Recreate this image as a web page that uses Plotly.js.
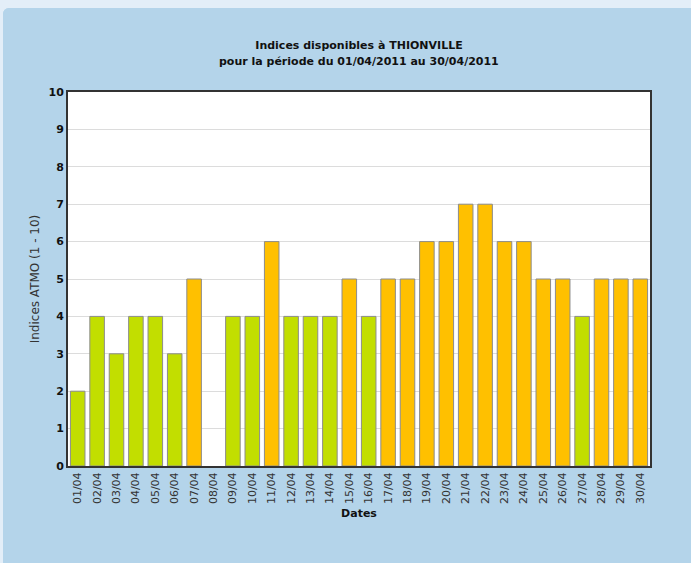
<!DOCTYPE html>
<html>
<head>
<meta charset="utf-8">
<script src="https://cdn.plot.ly/plotly-3.0.1.min.js"></script>
<style>
  html, body { margin: 0; padding: 0; background: #e3eef8; width: 691px; height: 563px; overflow: hidden; }
  #chart { position: absolute; left: 3px; top: 8px; width: 688px; height: 555px; border-top-left-radius: 6px; overflow: hidden; background: #b4d4ea; }
</style>
</head>
<body>
<div id="chart"></div>
<script>
const dates = ["01/04","02/04","03/04","04/04","05/04","06/04","07/04","08/04","09/04","10/04",
               "11/04","12/04","13/04","14/04","15/04","16/04","17/04","18/04","19/04","20/04",
               "21/04","22/04","23/04","24/04","25/04","26/04","27/04","28/04","29/04","30/04"];
const indices = [2,4,3,4,4,3,5,null,4,4,6,4,4,4,5,4,5,5,6,6,7,7,6,6,5,5,4,5,5,5];
const yTicks = [0,1,2,3,4,5,6,7,8,9,10];
const titleLine1 = "Indices disponibles à THIONVILLE";
const titleLine2 = "pour la période du 01/04/2011 au 30/04/2011";

const GREEN = "#c2de00", ORANGE = "#ffc000";
const barColors = indices.map(v => (v !== null && v >= 5) ? ORANGE : GREEN);

const font = "DejaVu Sans, Verdana, sans-serif";

Plotly.newPlot("chart", [{
  type: "bar",
  x: dates,
  y: indices,
  marker: { color: barColors, line: { color: "#8c8c8c", width: 1 } },
  hoverinfo: "x+y"
}], {
  width: 688, height: 555,
  paper_bgcolor: "#b4d4ea",
  plot_bgcolor: "#ffffff",
  margin: { l: 65, r: 41, t: 84, b: 97 },
  bargap: 0.25,
  showlegend: false,
  title: {
    text: "<b>" + titleLine1 + "</b>",
    font: { family: font, size: 11, color: "#111" },
    x: 0.5, xref: "paper", xanchor: "center",
    y: 1 - 37/555, yref: "container", yanchor: "middle"
  },
  annotations: [{
    text: "<b>" + titleLine2 + "</b>",
    font: { family: font, size: 11, color: "#111" },
    x: 0.5, xref: "paper", xanchor: "center",
    y: 404/374, yref: "paper", yanchor: "middle",
    showarrow: false
  }],
  xaxis: {
    type: "category",
    tickangle: -90,
    tickfont: { family: font, size: 11, color: "#333" },
    showline: true, linecolor: "#333", linewidth: 2, mirror: true,
    ticks: "", showgrid: false,
    title: { text: "<b>Dates</b>", font: { family: font, size: 11, color: "#111" }, standoff: 6 }
  },
  yaxis: {
    range: [0, 10],
    tickvals: yTicks,
    ticktext: yTicks.map(v => "<b>" + v + "</b>"),
    tickfont: { family: font, size: 11, color: "#111" },
    showline: true, linecolor: "#333", linewidth: 2, mirror: true,
    gridcolor: "#dcdcdc", gridwidth: 1,
    zeroline: false, ticks: "",
    title: { text: "Indices ATMO (1 - 10)", font: { family: font, size: 12, color: "#333" }, standoff: 6 }
  }
}, { displayModeBar: false, staticPlot: true });
</script>
</body>
</html>
